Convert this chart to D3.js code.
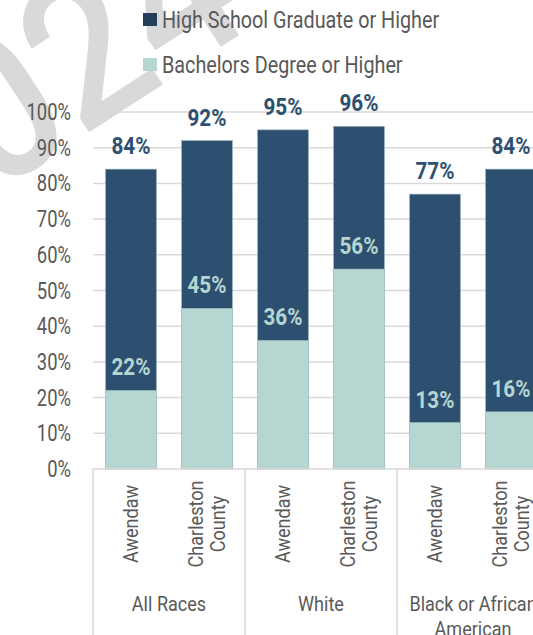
<!DOCTYPE html>
<html>
<head>
<meta charset="utf-8">
<script src="https://cdn.jsdelivr.net/npm/d3@7"></script>
<style>
  body { margin: 0; background: #fff; }
  svg { display: block; }
  text { font-family: Roboto, "DejaVu Sans", sans-serif; }
</style>
</head>
<body>
<svg id="chart"></svg>
<script>
// groups and sub categories
const groups = ["All Races", "White", "Black or African American"];
const places = ["Awendaw", "Charleston County"];
const highSchool = [0.84, 0.92, 0.95, 0.96, 0.77, 0.84];
const bachelors = [0.22, 0.45, 0.36, 0.56, 0.13, 0.16];
const yTicks = [0, 0.1, 0.2, 0.3, 0.4, 0.5, 0.6, 0.7, 0.8, 0.9, 1.0];
const seriesNames = ["High School Graduate or Higher", "Bachelors Degree or Higher"];

const width = 533;
const height = 635;
const dark = "#2e5070";
const light = "#b5d6d1";
const grey = "#595959";
const K = 0.86; // squeeze Roboto to look like the condensed font

// place a text at x,y, optionally rotated, narrowed horizontally
function pos(x, y, rot, k) {
    return `translate(${x},${y}) rotate(${rot || 0}) scale(${k || K},1)`;
}

const svg = d3.select("#chart")
    .attr("width", width)
    .attr("height", height);

// watermark
svg.append("text")
    .attr("transform", "translate(-95,252) rotate(-33) scale(0.9,1)")
    .attr("font-size", 205)
    .attr("font-weight", 500)
    .attr("fill", "#d9d9d9")
    .text("2024");

let bars = [];
groups.forEach((g, gi) => {
    places.forEach((p, pi) => {
        let i = gi * places.length + pi;
        bars.push({ key: i, group: g, place: p, hs: highSchool[i], ba: bachelors[i] });
    });
});

const x = d3.scaleBand()
    .domain(bars.map(d => d.key))
    .range([93, 93 + 76 * bars.length])
    .paddingInner(0.33)
    .paddingOuter(0.165);

const y = d3.scaleLinear()
    .domain([0, 1])
    .range([469, 112]);

// gridlines
svg.append("g")
    .selectAll("line")
    .data(yTicks.slice(1))
    .enter().append("line")
    .attr("x1", 93)
    .attr("x2", width)
    .attr("y1", d => y(d))
    .attr("y2", d => y(d))
    .attr("stroke", "#d9d9d9")
    .attr("stroke-width", 1.5);

// y axis labels
svg.append("g")
    .selectAll("text")
    .data(yTicks)
    .enter().append("text")
    .attr("transform", d => pos(71, y(d) + 8, 0, 0.8))
    .attr("text-anchor", "end")
    .attr("font-size", 23)
    .attr("fill", grey)
    .text(d3.format(".0%"));

// high school bars
svg.append("g")
    .selectAll("rect")
    .data(bars)
    .enter().append("rect")
    .attr("x", d => x(d.key))
    .attr("width", x.bandwidth())
    .attr("y", d => y(d.hs))
    .attr("height", d => y(0) - y(d.hs))
    .attr("fill", dark)
    .attr("stroke", "#9fb8c4")
    .attr("stroke-width", 0.6);

// bachelors bars, drawn in front
svg.append("g")
    .selectAll("rect")
    .data(bars)
    .enter().append("rect")
    .attr("x", d => x(d.key))
    .attr("width", x.bandwidth())
    .attr("y", d => y(d.ba))
    .attr("height", d => y(0) - y(d.ba))
    .attr("fill", light)
    .attr("stroke", "#9fc7c1")
    .attr("stroke-width", 0.6);

// value labels
svg.append("g")
    .selectAll("text")
    .data(bars)
    .enter().append("text")
    .attr("transform", d => pos(x(d.key) + x.bandwidth() / 2, y(d.hs) - 15))
    .attr("text-anchor", "middle")
    .attr("font-size", 24)
    .attr("font-weight", "bold")
    .attr("fill", dark)
    .text(d => d3.format(".0%")(d.hs));

svg.append("g")
    .selectAll("text")
    .data(bars)
    .enter().append("text")
    .attr("transform", d => pos(x(d.key) + x.bandwidth() / 2, y(d.ba) - 15))
    .attr("text-anchor", "middle")
    .attr("font-size", 24)
    .attr("font-weight", "bold")
    .attr("fill", light)
    .text(d => d3.format(".0%")(d.ba));

// x axis line and group separators
svg.append("line")
    .attr("x1", 93).attr("x2", width)
    .attr("y1", y(0)).attr("y2", y(0))
    .attr("stroke", "#d9d9d9")
    .attr("stroke-width", 1.5);

const step = x.step();
svg.append("g")
    .selectAll("line")
    .data(d3.range(groups.length + 1))
    .enter().append("line")
    .attr("x1", i => 93 + i * step * places.length)
    .attr("x2", i => 93 + i * step * places.length)
    .attr("y1", y(0))
    .attr("y2", height)
    .attr("stroke", "#d9d9d9")
    .attr("stroke-width", 1.5);

// rotated place labels
const placeLabels = svg.append("g")
    .selectAll("text")
    .data(bars)
    .enter().append("text")
    .attr("transform", d => pos(x(d.key) + x.bandwidth() / 2, 524, -90))
    .attr("text-anchor", "middle")
    .attr("font-size", 21)
    .attr("fill", grey);

placeLabels.each(function(d) {
    let words = d.place.split(" ");
    let t = d3.select(this);
    let first = -(words.length - 1) * 0.52 + 0.35;
    words.forEach((w, i) => {
        t.append("tspan")
            .attr("x", 0)
            .attr("dy", i == 0 ? first + "em" : "1.05em")
            .text(w);
    });
});

// group labels
const groupWrap = {
    "All Races": ["All Races"],
    "White": ["White"],
    "Black or African American": ["Black or African", "American"]
};
svg.append("g")
    .selectAll("text")
    .data(groups)
    .enter().append("text")
    .attr("transform", (g, i) => pos(93 + (i + 0.5) * step * places.length, 611))
    .attr("text-anchor", "middle")
    .attr("font-size", 21)
    .attr("fill", grey)
    .each(function(g) {
        groupWrap[g].forEach((line, i) => {
            d3.select(this).append("tspan")
                .attr("x", 0)
                .attr("dy", i == 0 ? 0 : "1.2em")
                .text(line);
        });
    });

// legend
const legend = svg.append("g")
    .selectAll("g")
    .data(seriesNames)
    .enter().append("g")
    .attr("transform", (d, i) => `translate(143,${13 + i * 45})`);

legend.append("rect")
    .attr("width", 14)
    .attr("height", 13)
    .attr("fill", (d, i) => i == 0 ? "#243f5c" : light);

legend.append("text")
    .attr("transform", pos(19, 15))
    .attr("font-size", 23)
    .attr("fill", grey)
    .text(d => d);
</script>
</body>
</html>
